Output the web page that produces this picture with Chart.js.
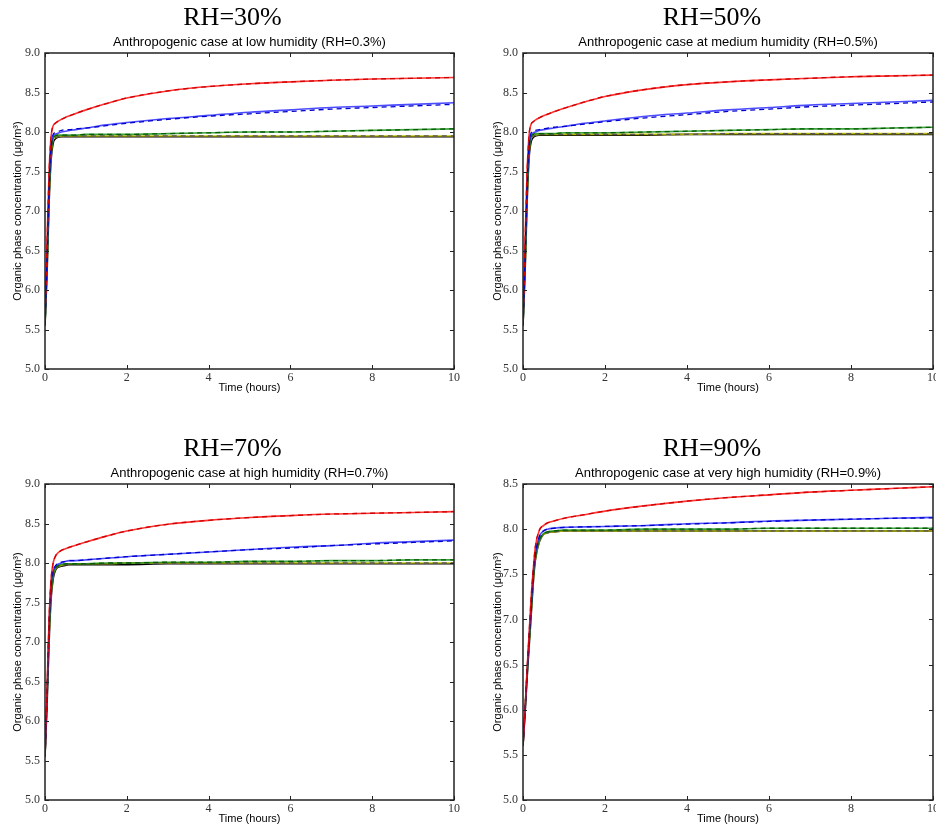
<!DOCTYPE html>
<html>
<head>
<meta charset="utf-8">
<script src="https://cdn.jsdelivr.net/npm/chart.js@4.4.1/dist/chart.umd.min.js"></script>
<style>
  html, body { margin: 0; background: #fff; }
  #wrap { position: relative; width: 936px; height: 826px; overflow: hidden; }
  canvas { position: absolute; }
  #c0 { left: 0; top: 0; }
  #c1 { left: 468px; top: 0; }
  #c2 { left: 0; top: 431px; }
  #c3 { left: 468px; top: 431px; }
</style>
</head>
<body>
<div id="wrap">
  <canvas id="c0" width="468" height="395"></canvas>
  <canvas id="c1" width="468" height="395"></canvas>
  <canvas id="c2" width="468" height="395"></canvas>
  <canvas id="c3" width="468" height="395"></canvas>
</div>
<script>
/* ------- Datos (tiempo en horas, µg/m3) ------- */
const times = [0, 0.05, 0.1, 0.15, 0.2, 0.25, 0.3, 0.4, 0.5, 0.6, 0.75, 1, 1.5, 2, 3, 4, 5, 6, 7, 8, 9, 10];

const panelTitles = ['RH=30%', 'RH=50%', 'RH=70%', 'RH=90%'];
const panelSubtitles = [
  'Anthropogenic case at low humidity (RH=0.3%)',
  'Anthropogenic case at medium humidity (RH=0.5%)',
  'Anthropogenic case at high humidity (RH=0.7%)',
  'Anthropogenic case at very high humidity (RH=0.9%)'
];
const yMaxes = [9, 9, 9, 8.5];
const xLabel = 'Time (hours)';
const yLabel = 'Organic phase concentration (μg/m³)';

// RH=30%
const rh30Red      = [5.6, 6.6, 7.5, 7.95, 8.08, 8.11, 8.13, 8.16, 8.185, 8.205, 8.235, 8.28, 8.36, 8.43, 8.52, 8.575, 8.61, 8.635, 8.655, 8.67, 8.68, 8.69];
const rh30Blue     = [5.55, 6.4, 7.3, 7.8, 7.95, 7.97, 7.98, 8.00, 8.01, 8.02, 8.03, 8.05, 8.09, 8.12, 8.17, 8.21, 8.25, 8.28, 8.31, 8.33, 8.35, 8.37];
const rh30BlueDash = [5.55, 6.4, 7.3, 7.82, 7.97, 7.99, 8.00, 8.02, 8.03, 8.03, 8.04, 8.05, 8.08, 8.11, 8.16, 8.20, 8.23, 8.26, 8.29, 8.31, 8.33, 8.35];
const rh30Green    = [5.55, 6.3, 7.2, 7.75, 7.92, 7.95, 7.96, 7.96, 7.96, 7.96, 7.96, 7.97, 7.97, 7.97, 7.98, 7.99, 8.00, 8.00, 8.01, 8.02, 8.03, 8.04];
const rh30Yellow   = [5.55, 6.3, 7.2, 7.72, 7.90, 7.93, 7.94, 7.95, 7.95, 7.95, 7.95, 7.95, 7.95, 7.95, 7.95, 7.95, 7.95, 7.95, 7.95, 7.95, 7.95, 7.95];
const rh30Black    = [5.55, 6.2, 7.1, 7.65, 7.86, 7.91, 7.93, 7.94, 7.94, 7.94, 7.94, 7.94, 7.94, 7.94, 7.94, 7.94, 7.94, 7.94, 7.94, 7.94, 7.94, 7.94];

// RH=50%
const rh50Red      = [5.6, 6.6, 7.5, 7.97, 8.10, 8.13, 8.15, 8.18, 8.205, 8.225, 8.255, 8.30, 8.38, 8.45, 8.54, 8.60, 8.635, 8.66, 8.68, 8.70, 8.71, 8.72];
const rh50Blue     = [5.55, 6.4, 7.3, 7.82, 7.97, 7.99, 8.00, 8.02, 8.03, 8.04, 8.05, 8.07, 8.11, 8.14, 8.20, 8.24, 8.28, 8.31, 8.34, 8.36, 8.38, 8.40];
const rh50BlueDash = [5.55, 6.4, 7.3, 7.84, 7.99, 8.01, 8.02, 8.03, 8.04, 8.05, 8.06, 8.07, 8.10, 8.13, 8.18, 8.22, 8.26, 8.29, 8.32, 8.34, 8.36, 8.38];
const rh50Green    = [5.55, 6.3, 7.2, 7.77, 7.94, 7.97, 7.98, 7.98, 7.98, 7.98, 7.98, 7.99, 7.99, 7.99, 8.00, 8.01, 8.02, 8.03, 8.04, 8.04, 8.05, 8.06];
const rh50Yellow   = [5.55, 6.3, 7.2, 7.75, 7.92, 7.95, 7.96, 7.97, 7.97, 7.97, 7.97, 7.97, 7.97, 7.97, 7.97, 7.97, 7.98, 7.98, 7.98, 7.98, 7.98, 7.98];
const rh50Black    = [5.55, 6.2, 7.1, 7.68, 7.88, 7.93, 7.95, 7.96, 7.96, 7.96, 7.96, 7.96, 7.96, 7.96, 7.96, 7.97, 7.97, 7.97, 7.97, 7.97, 7.97, 7.97];

// RH=70%
const rh70Red      = [5.55, 6.4, 7.3, 7.8, 8.0, 8.08, 8.12, 8.16, 8.18, 8.20, 8.225, 8.265, 8.34, 8.405, 8.49, 8.54, 8.575, 8.60, 8.62, 8.63, 8.64, 8.65];
const rh70Blue     = [5.55, 6.3, 7.2, 7.72, 7.9, 7.95, 7.98, 8.00, 8.02, 8.03, 8.03, 8.04, 8.06, 8.08, 8.11, 8.14, 8.17, 8.20, 8.22, 8.25, 8.27, 8.29];
const rh70BlueDash = [5.55, 6.3, 7.2, 7.73, 7.91, 7.96, 7.99, 8.01, 8.02, 8.03, 8.03, 8.04, 8.06, 8.08, 8.11, 8.14, 8.17, 8.19, 8.22, 8.24, 8.26, 8.28];
const rh70Green    = [5.55, 6.3, 7.1, 7.65, 7.85, 7.93, 7.96, 7.98, 7.99, 7.99, 7.99, 7.99, 8.00, 8.00, 8.01, 8.01, 8.02, 8.02, 8.03, 8.03, 8.04, 8.04];
const rh70Yellow   = [5.55, 6.3, 7.1, 7.63, 7.84, 7.92, 7.95, 7.97, 7.98, 7.99, 7.99, 7.99, 7.99, 8.00, 8.00, 8.00, 8.00, 8.00, 8.00, 8.00, 8.00, 8.00];
const rh70Black    = [5.55, 6.2, 7.0, 7.55, 7.8, 7.9, 7.94, 7.96, 7.97, 7.98, 7.98, 7.98, 7.98, 7.98, 7.99, 7.99, 7.99, 7.99, 7.99, 7.99, 7.99, 7.99];

// RH=90%
const rh90Red      = [5.6, 6.0, 6.45, 6.85, 7.25, 7.55, 7.8, 7.99, 8.04, 8.07, 8.09, 8.12, 8.16, 8.20, 8.26, 8.31, 8.35, 8.38, 8.41, 8.43, 8.45, 8.47];
const rh90Blue     = [5.6, 6.0, 6.4, 6.8, 7.15, 7.5, 7.72, 7.92, 7.98, 8.00, 8.01, 8.02, 8.025, 8.03, 8.04, 8.06, 8.07, 8.09, 8.10, 8.11, 8.12, 8.13];
const rh90BlueDash = [5.6, 6.0, 6.4, 6.8, 7.15, 7.5, 7.72, 7.92, 7.98, 8.00, 8.01, 8.02, 8.025, 8.03, 8.04, 8.055, 8.07, 8.085, 8.10, 8.11, 8.12, 8.125];
const rh90Green    = [5.6, 6.0, 6.4, 6.75, 7.1, 7.45, 7.68, 7.88, 7.95, 7.97, 7.98, 7.99, 7.99, 7.99, 8.00, 8.00, 8.00, 8.01, 8.01, 8.01, 8.01, 8.01];
const rh90Yellow   = [5.6, 6.0, 6.4, 6.75, 7.1, 7.44, 7.67, 7.87, 7.94, 7.96, 7.97, 7.98, 7.98, 7.98, 7.98, 7.98, 7.98, 7.98, 7.98, 7.98, 7.98, 7.98];
const rh90Black    = [5.6, 5.95, 6.35, 6.7, 7.05, 7.4, 7.65, 7.86, 7.94, 7.96, 7.97, 7.98, 7.98, 7.98, 7.98, 7.98, 7.98, 7.98, 7.98, 7.98, 7.98, 7.98];

const panelSeries = [
  { red: rh30Red, blue: rh30Blue, blueDash: rh30BlueDash, green: rh30Green, yellow: rh30Yellow, black: rh30Black },
  { red: rh50Red, blue: rh50Blue, blueDash: rh50BlueDash, green: rh50Green, yellow: rh50Yellow, black: rh50Black },
  { red: rh70Red, blue: rh70Blue, blueDash: rh70BlueDash, green: rh70Green, yellow: rh70Yellow, black: rh70Black },
  { red: rh90Red, blue: rh90Blue, blueDash: rh90BlueDash, green: rh90Green, yellow: rh90Yellow, black: rh90Black }
];

/* ------- Estilos ------- */
const SERIF = '"Liberation Serif", "Times New Roman", serif';
const SANS = '"Liberation Sans", Arial, sans-serif';

// izquierda / derecha: padding del layout y ancho del eje y
const sideLayout = [
  { padL: 11, padR: 14, yWidth: 34 },
  { padL: 23, padR: 3, yWidth: 32 }
];

function toPoints(arr) {
  return arr.map((v, i) => ({ x: times[i], y: v }));
}

function line(data, color, width, dash, order) {
  return {
    data: toPoints(data),
    borderColor: color,
    borderWidth: width,
    borderDash: dash || [],
    pointRadius: 0,
    fill: false,
    cubicInterpolationMode: 'monotone',
    order: order
  };
}

/* ------- Marco y ticks hacia dentro (estilo matplotlib) ------- */
const frameTicks = {
  id: 'frameTicks',
  afterDatasetsDraw(chart) {
    const { ctx, chartArea: a, scales: { x, y } } = chart;
    ctx.save();
    ctx.strokeStyle = '#222';
    ctx.lineWidth = 1;
    ctx.beginPath();
    x.ticks.forEach(t => {
      const px = Math.round(x.getPixelForValue(t.value)) + 0.5;
      ctx.moveTo(px, a.bottom); ctx.lineTo(px, a.bottom - 4);
      ctx.moveTo(px, a.top); ctx.lineTo(px, a.top + 4);
    });
    y.ticks.forEach(t => {
      const py = Math.round(y.getPixelForValue(t.value)) + 0.5;
      ctx.moveTo(a.left, py); ctx.lineTo(a.left + 4, py);
      ctx.moveTo(a.right, py); ctx.lineTo(a.right - 4, py);
    });
    ctx.stroke();
    ctx.lineWidth = 1.5;
    ctx.strokeRect(a.left, a.top, a.right - a.left, a.bottom - a.top);
    ctx.restore();
  }
};

function makePanel(i) {
  const s = panelSeries[i];
  const side = sideLayout[i % 2];
  const datasets = [
    line(s.red, 'rgba(255,0,0,0.8)', 1.6, null, 2),
    line(s.blue, 'rgba(0,0,255,0.7)', 1.6, null, 2),
    line(s.green, 'rgba(0,128,0,0.75)', 1.6, null, 2),
    line(s.yellow, 'rgba(190,190,0,0.9)', 1.6, null, 2),
    line(s.black, '#000', 1.6, null, 2),
    line(s.red, '#d00000', 1.3, [5, 4], 1),
    line(s.blueDash, '#0000cc', 1.3, [5, 4], 1),
    line(s.green, '#006000', 1.3, [5, 4], 1),
    line(s.yellow, '#555', 1.3, [5, 4], 1)
  ];

  return new Chart(document.getElementById('c' + i), {
    type: 'line',
    data: { datasets },
    plugins: [frameTicks],
    options: {
      responsive: false,
      animation: false,
      layout: { padding: { left: side.padL, right: side.padR, top: 0, bottom: 0 } },
      plugins: {
        legend: { display: false },
        tooltip: { enabled: false },
        title: {
          display: true, text: panelTitles[i], color: '#000',
          font: { family: SERIF, size: 26, weight: 'normal' },
          padding: { top: 3, bottom: 0 }
        },
        subtitle: {
          display: true, text: panelSubtitles[i], color: '#000', fullSize: false,
          font: { family: SANS, size: 13 },
          padding: { top: 0, bottom: 3.2 }
        }
      },
      scales: {
        x: {
          type: 'linear', min: 0, max: 10,
          afterFit(sc) { sc.height = 26; sc.paddingLeft = 0; sc.paddingRight = 0; },
          grid: { display: false, drawTicks: false },
          border: { display: false },
          ticks: { stepSize: 2, autoSkip: false, maxRotation: 0, padding: 2, color: '#333',
                   font: { family: SERIF, size: 12 } },
          title: { display: true, text: xLabel, color: '#000', padding: 0,
                   font: { family: SANS, size: 11 } }
        },
        y: {
          min: 5, max: yMaxes[i],
          afterFit(sc) { sc.width = side.yWidth; sc.paddingTop = 0; sc.paddingBottom = 0; },
          grid: { display: false, drawTicks: false },
          border: { display: false },
          ticks: { stepSize: 0.5, padding: 5, color: '#333',
                   font: { family: SERIF, size: 12 },
                   callback: v => Number(v).toFixed(1) },
          title: { display: true, text: yLabel, color: '#000', padding: 0,
                   font: { family: SANS, size: 11 } }
        }
      }
    }
  });
}

/* ------- Init ------- */
window.addEventListener('DOMContentLoaded', () => {
  [0, 1, 2, 3].forEach(makePanel);
});
</script>
</body>
</html>
